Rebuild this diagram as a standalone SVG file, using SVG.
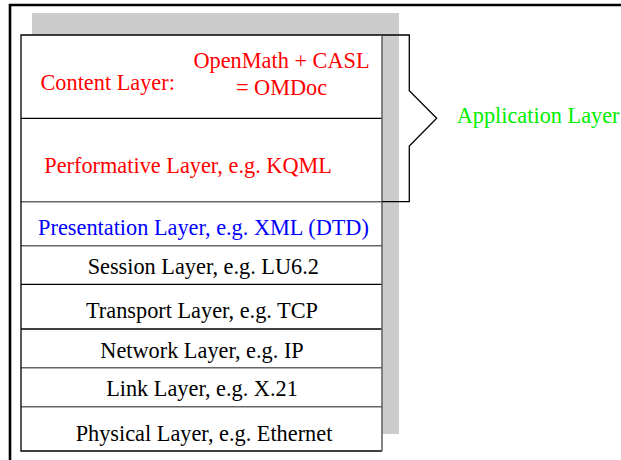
<svg xmlns="http://www.w3.org/2000/svg" width="621" height="460" viewBox="0 0 621 460">
<style>
text{font-family:"Liberation Serif","Times New Roman",serif;font-size:22.3px}
.red{fill:#ff0000}.blue{fill:#0000ff}.black{fill:#000}.green{fill:#00ee00}
.mid{text-anchor:middle}
.ln{stroke:#000;stroke-width:1.3;fill:none}
.lg{stroke:#666;stroke-width:1.6;fill:none}
</style>
<rect width="621" height="460" fill="#fff"/>
<path d="M10,460 V5 H621" fill="none" stroke="#000" stroke-width="2.6"/>
<rect id="shadow" x="32" y="13" width="367" height="421" fill="#cccccc"/>
<rect x="21" y="35" width="361" height="416" fill="#fff"/>
<g id="content-layer">
<text class="red" x="40.5" y="90">Content Layer:</text>
<text class="red mid" x="281.5" y="68.3">OpenMath + CASL</text>
<text class="red mid" x="281.5" y="95">= OMDoc</text>
</g>
<g id="performative-layer">
<path class="ln" d="M21,118.3 H382"/>
<text class="red" x="44.3" y="173.3">Performative Layer, e.g. KQML</text>
</g>
<g id="presentation-layer">
<path class="lg" d="M21,201.7 H382"/>
<text class="blue mid" x="203.5" y="235">Presentation Layer, e.g. XML (DTD)</text>
</g>
<g id="session-layer">
<path class="lg" d="M21,245.7 H382"/>
<text class="black mid" x="203.3" y="274">Session Layer, e.g. LU6.2</text>
</g>
<g id="transport-layer">
<path class="ln" d="M21,284.3 H382"/>
<text class="black mid" x="202" y="318.3">Transport Layer, e.g. TCP</text>
</g>
<g id="network-layer">
<path class="ln" d="M21,329 H382"/>
<text class="black mid" x="202" y="357.7">Network Layer, e.g. IP</text>
</g>
<g id="link-layer">
<path class="lg" d="M21,367.7 H382"/>
<text class="black mid" x="202" y="396">Link Layer, e.g. X.21</text>
</g>
<g id="physical-layer">
<path class="lg" d="M21,406.7 H382"/>
<text class="black mid" x="204" y="440.5">Physical Layer, e.g. Ethernet</text>
</g>
<g id="stack-frame">
<path class="ln" d="M382,451 H21 V35 H382"/>
<path class="lg" d="M382,35 V451"/>
</g>
<g id="connectors">
<path class="ln" d="M382,35 H409.3 V90.7 L436.7,118.3 L409.3,146 V201.7 H382"/>
</g>
<g id="application-layer">
<text class="green" x="456.7" y="123.3">Application Layer</text>
</g>
</svg>
